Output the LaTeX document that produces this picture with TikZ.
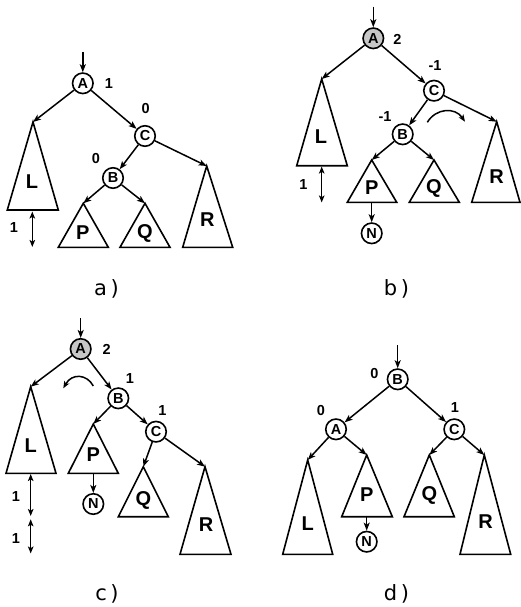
\documentclass[tikz,border=0pt]{standalone}
\usepackage{fontspec}
\setmainfont{Liberation Sans}
\newfontfamily\capfont{DejaVu Sans}
\usetikzlibrary{arrows.meta}
\tikzset{
 vert/.style={circle,draw,line width=1.6pt,minimum size=20.5pt,inner sep=0pt,font=\bfseries\fontsize{14.5}{14.5}\selectfont},
 hot/.style={vert,fill=black!22},
 tri/.style={draw,line width=1.6pt,line join=miter},
 tlab/.style={font=\bfseries\fontsize{20}{20}\selectfont,inner sep=0pt},
 bal/.style={font=\bfseries\fontsize{14.5}{14.5}\selectfont,inner sep=0pt},
 caplab/.style={font=\capfont\fontsize{21}{21}\selectfont,inner sep=0pt},
 link/.style={line width=1.5pt,-{Stealth[length=8pt,width=6pt,inset=2pt]}},
 hgt/.style={line width=1.5pt,{Stealth[length=7pt,width=5.5pt,inset=1.6pt]}-{Stealth[length=7pt,width=5.5pt,inset=1.6pt]}},
 rot/.style={line width=1.5pt,-{Stealth[length=7pt,width=5.5pt,inset=1.6pt]}},
}
\begin{document}
\begin{tikzpicture}[x=1pt,y=-1pt]
\useasboundingbox (0,0) rectangle (521,607);
% ---------- panel a ----------
\coordinate (aIn) at (82.8,52);
\node[vert] (aA) at (82.8,83.3) {A};
\node[bal] (aAb) at (109,84) {1};
\node[vert] (aC) at (145,136) {C};
\node[bal] (aCb) at (145.7,109) {0};
\node[vert] (aB) at (113,178) {B};
\node[bal] (aBb) at (96,159) {0};
\coordinate (aL) at (33,122);
\coordinate (aR) at (206.7,166);
\coordinate (aP) at (83.3,203.3);
\coordinate (aQ) at (145,203.3);
\draw[tri] (aL) -- (7.3,210) -- (58.3,210) -- cycle;
\draw[tri] (aR) -- (182.7,247.3) -- (232.7,247.3) -- cycle;
\draw[tri] (aP) -- (58.3,247.3) -- (108.3,247.3) -- cycle;
\draw[tri] (aQ) -- (120,247.3) -- (170,247.3) -- cycle;
\node[tlab] (aLt) at (32,182) {L};
\node[tlab] (aRt) at (207.3,220) {R};
\node[tlab] (aPt) at (82.7,233) {P};
\node[tlab] (aQt) at (145,233) {Q};
\draw[link] (aIn) -- (aA);
\draw[link] (aA) -- (aL);
\draw[link] (aA) -- (aC);
\draw[link] (aC) -- (aB);
\draw[link] (aC) -- (aR);
\draw[link] (aB) -- (aP);
\draw[link] (aB) -- (aQ);
\coordinate (aH1) at (32.3,211.5);
\coordinate (aH2) at (32.3,247);
\draw[hgt] (aH1) -- (aH2);
\node[bal] (aHb) at (14,228) {1};
\node[caplab] (capa) at (106.5,289) {a\,)};
% ---------- panel b ----------
\coordinate (bIn) at (373.3,6.7);
\node[hot] (bA) at (373.3,38.3) {A};
\node[bal] (bAb) at (397.5,39) {2};
\node[vert] (bC) at (434,90.7) {C};
\node[bal] (bCb) at (435,66) {-1};
\node[vert] (bB) at (402.7,134.3) {B};
\node[bal] (bBb) at (385,116.7) {-1};
\coordinate (bL) at (321.7,79);
\coordinate (bR) at (496.7,121.7);
\coordinate (bP) at (371.7,160);
\coordinate (bQ) at (434,160);
\draw[tri] (bL) -- (296.7,165.7) -- (347.3,165.7) -- cycle;
\draw[tri] (bR) -- (471.7,202.3) -- (520,202.3) -- cycle;
\draw[tri] (bP) -- (347.3,202.3) -- (396.7,202.3) -- cycle;
\draw[tri] (bQ) -- (409.3,202.3) -- (459.3,202.3) -- cycle;
\node[tlab] (bLt) at (321,137) {L};
\node[tlab] (bRt) at (496.7,176.7) {R};
\node[tlab] (bPt) at (371.7,188) {P};
\node[tlab] (bQt) at (434,188) {Q};
\node[vert] (bN) at (371.7,233.3) {N};
\coordinate (bPb) at (371.7,202.3);
\draw[link] (bIn) -- (bA);
\draw[link] (bA) -- (bL);
\draw[link] (bA) -- (bC);
\draw[link] (bC) -- (bB);
\draw[link] (bC) -- (bR);
\draw[link] (bB) -- (bP);
\draw[link] (bB) -- (bQ);
\draw[link] (bPb) -- (bN);
\coordinate (bH1) at (321.7,166.5);
\coordinate (bH2) at (321.7,202.5);
\draw[hgt] (bH1) -- (bH2);
\node[bal] (bHb) at (303.3,185) {1};
\coordinate (bT1) at (427.3,122.3);
\coordinate (bT2) at (465,121.7);
\draw[rot] (bT1) .. controls (436,108) and (455,107) .. (bT2);
\node[caplab] (capb) at (396.5,289) {b\,)};
% ---------- panel c ----------
\coordinate (cIn) at (80.7,318);
\node[hot] (cA) at (80.7,349) {A};
\node[bal] (cAb) at (106.7,349) {2};
\node[vert] (cB) at (118.3,398.3) {B};
\node[bal] (cBb) at (130,378.3) {1};
\node[vert] (cC) at (156,431.7) {C};
\node[bal] (cCb) at (162.3,410.7) {1};
\coordinate (cL) at (30.7,386.7);
\coordinate (cP) at (93.3,424);
\coordinate (cQ) at (143.3,466.7);
\coordinate (cR) at (205,466.7);
\draw[tri] (cL) -- (6,473.3) -- (56,473.3) -- cycle;
\draw[tri] (cP) -- (68.3,473.3) -- (118.3,473.3) -- cycle;
\draw[tri] (cQ) -- (118.3,516.7) -- (168.3,516.7) -- cycle;
\draw[tri] (cR) -- (180,554.3) -- (231,554.3) -- cycle;
\node[tlab] (cLt) at (30.7,445.7) {L};
\node[tlab] (cPt) at (93.3,455) {P};
\node[tlab] (cQt) at (143.3,500) {Q};
\node[tlab] (cRt) at (206,525) {R};
\node[vert] (cN) at (93.3,504) {N};
\coordinate (cPb) at (93.3,473.3);
\draw[link] (cIn) -- (cA);
\draw[link] (cA) -- (cL);
\draw[link] (cA) -- (cB);
\draw[link] (cB) -- (cP);
\draw[link] (cB) -- (cC);
\draw[link] (cC) -- (cQ);
\draw[link] (cC) -- (cR);
\draw[link] (cPb) -- (cN);
\coordinate (cH1) at (30.7,474);
\coordinate (cH2) at (30.7,516);
\coordinate (cH3) at (30.7,519.3);
\coordinate (cH4) at (30.7,553.5);
\draw[hgt] (cH1) -- (cH2);
\draw[hgt] (cH3) -- (cH4);
\node[bal] (cHb1) at (16,496.7) {1};
\node[bal] (cHb2) at (16,538.3) {1};
\coordinate (cT1) at (93.3,386);
\coordinate (cT2) at (63.3,388.3);
\draw[rot] (cT1) .. controls (87,374) and (72,373) .. (cT2);
\node[caplab] (capc) at (107,594) {c\,)};
% ---------- panel d ----------
\coordinate (dIn) at (397.7,345);
\node[vert] (dB) at (397.7,379.3) {B};
\node[bal] (dBb) at (374.3,373.3) {0};
\node[vert] (dA) at (336,429.3) {A};
\node[bal] (dAb) at (321,410.7) {0};
\node[vert] (dC) at (454.3,429.3) {C};
\node[bal] (dCb) at (455,407.3) {1};
\coordinate (dL) at (307.7,460);
\coordinate (dP) at (366.7,455);
\coordinate (dQ) at (429.3,455);
\coordinate (dR) at (484.3,455);
\draw[tri] (dL) -- (282.7,554.3) -- (332.7,554.3) -- cycle;
\draw[tri] (dP) -- (341.7,516.7) -- (392.3,516.7) -- cycle;
\draw[tri] (dQ) -- (404,516.7) -- (454.3,516.7) -- cycle;
\draw[tri] (dR) -- (460,554.3) -- (510.7,554.3) -- cycle;
\node[tlab] (dLt) at (307.7,523.3) {L};
\node[tlab] (dPt) at (366.7,495) {P};
\node[tlab] (dQt) at (429.3,495) {Q};
\node[tlab] (dRt) at (485.7,521.7) {R};
\node[vert] (dN) at (366.7,541.7) {N};
\coordinate (dPb) at (366.7,516.7);
\draw[link] (dIn) -- (dB);
\draw[link] (dB) -- (dA);
\draw[link] (dB) -- (dC);
\draw[link] (dA) -- (dL);
\draw[link] (dA) -- (dP);
\draw[link] (dC) -- (dQ);
\draw[link] (dC) -- (dR);
\draw[link] (dPb) -- (dN);
\node[caplab] (capd) at (396.5,594) {d\,)};
\end{tikzpicture}
\end{document}
